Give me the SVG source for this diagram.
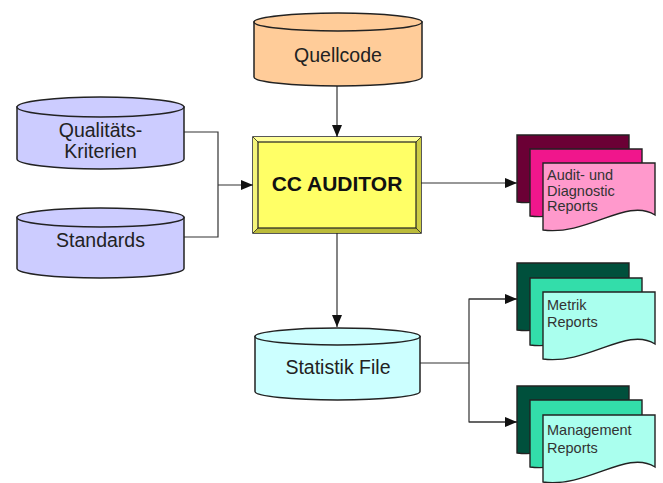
<svg xmlns="http://www.w3.org/2000/svg" width="663" height="483" viewBox="0 0 663 483">
<defs>
<style>
.cyl{stroke:#222;stroke-width:1.5}
.t{font-family:"Liberation Sans",Arial,sans-serif;fill:#222;font-size:19.5px}
.dt{font-family:"Liberation Sans",Arial,sans-serif;fill:#333;font-size:14.5px}
.ln{fill:none;stroke:#333;stroke-width:1.2}
.pg{stroke:#222;stroke-width:1.4}
</style>
<marker id="ah" viewBox="0 0 12 10" refX="12" refY="5" markerWidth="12" markerHeight="10" markerUnits="userSpaceOnUse" orient="auto">
<path d="M0,0 L12,5 L0,10 Z" fill="#111"/>
</marker>
<path id="page" d="M0,0 H112 V52 C84,34 45,73 0,67 Z"/>
</defs>
<rect width="663" height="483" fill="#fff"/>

<g id="connectors">
<line class="ln" x1="337" y1="86" x2="337" y2="137" marker-end="url(#ah)"/>
<polyline class="ln" points="184,132 218,132 218,237 184,237"/>
<line class="ln" x1="218" y1="185" x2="253" y2="185" marker-end="url(#ah)"/>
<line class="ln" x1="337" y1="233" x2="337" y2="327" marker-end="url(#ah)"/>
<line class="ln" x1="421" y1="183" x2="517" y2="183" marker-end="url(#ah)"/>
<line class="ln" x1="420" y1="363" x2="469" y2="363"/>
<polyline class="ln" points="517,299 469,299 469,422 517,422"/>
<line class="ln" x1="469" y1="299" x2="517" y2="299" marker-end="url(#ah)"/>
<line class="ln" x1="469" y1="422" x2="517" y2="422" marker-end="url(#ah)"/>
</g>

<g id="quellcode">
<path class="cyl" fill="#FFCC99" d="M254,22 V77 A84,9 0 0 0 422,77 V22 Z"/>
<ellipse class="cyl" fill="#FFCC99" cx="338" cy="22" rx="84" ry="9"/>
<text class="t" x="338" y="62" text-anchor="middle">Quellcode</text>
</g>

<g id="qualitaets">
<path class="cyl" fill="#CCCCFF" d="M17,107 V159 A83.5,10 0 0 0 184,159 V107 Z"/>
<ellipse class="cyl" fill="#CCCCFF" cx="100.5" cy="107" rx="83.5" ry="10"/>
<text class="t" x="100.5" y="137" text-anchor="middle">Qualitäts-</text>
<text class="t" x="100.5" y="158" text-anchor="middle">Kriterien</text>
</g>

<g id="standards">
<path class="cyl" fill="#CCCCFF" d="M17,217.5 V268.5 A83.5,9.5 0 0 0 184,268.5 V217.5 Z"/>
<ellipse class="cyl" fill="#CCCCFF" cx="100.5" cy="217.5" rx="83.5" ry="9.5"/>
<text class="t" x="100.5" y="247" text-anchor="middle">Standards</text>
</g>

<g id="ccauditor">
<rect x="253" y="137" width="168" height="96" fill="#E8E860" stroke="#222" stroke-width="1.5"/>
<polygon points="253,137 421,137 416,142 258,142" fill="#FFFF99"/>
<polygon points="253,137 258,142 258,228 253,233" fill="#F5F57A"/>
<polygon points="421,137 421,233 416,228 416,142" fill="#CCCC44"/>
<polygon points="253,233 421,233 416,228 258,228" fill="#BBBB3A"/>
<rect x="258" y="142" width="158" height="86" fill="#FFFF66" stroke="#222" stroke-width="1.2"/>
<line x1="253" y1="137" x2="258" y2="142" stroke="#222" stroke-width="0.8"/>
<line x1="421" y1="137" x2="416" y2="142" stroke="#222" stroke-width="0.8"/>
<line x1="253" y1="233" x2="258" y2="228" stroke="#222" stroke-width="0.8"/>
<line x1="421" y1="233" x2="416" y2="228" stroke="#222" stroke-width="0.8"/>
<text class="t" x="337" y="191" text-anchor="middle" font-weight="bold" style="font-size:21px;fill:#111">CC AUDITOR</text>
</g>

<g id="statistik">
<path class="cyl" fill="#CCFFFF" d="M255,336.5 V391.5 A82.5,8.5 0 0 0 420,391.5 V336.5 Z"/>
<ellipse class="cyl" fill="#CCFFFF" cx="337.5" cy="336.5" rx="82.5" ry="8.5"/>
<text class="t" x="338" y="374" text-anchor="middle">Statistik File</text>
</g>

<g id="audit">
<use href="#page" x="517" y="135" class="pg" fill="#6B0035"/>
<use href="#page" x="530" y="149" class="pg" fill="#F0168C"/>
<use href="#page" x="543" y="163" class="pg" fill="#FF99CC"/>
<text class="dt" x="547" y="180">Audit- und</text>
<text class="dt" x="547" y="195.5">Diagnostic</text>
<text class="dt" x="547" y="211">Reports</text>
</g>

<g id="metrik">
<use href="#page" x="517" y="263" class="pg" fill="#00503C"/>
<use href="#page" x="530" y="278" class="pg" fill="#33DDAA"/>
<use href="#page" x="543" y="292" class="pg" fill="#AAFFEE"/>
<text class="dt" x="547" y="310">Metrik</text>
<text class="dt" x="547" y="327">Reports</text>
</g>

<g id="management">
<use href="#page" x="517" y="386" class="pg" fill="#00503C"/>
<use href="#page" x="530" y="400" class="pg" fill="#33DDAA"/>
<use href="#page" x="543" y="415" class="pg" fill="#AAFFEE"/>
<text class="dt" x="547" y="435">Management</text>
<text class="dt" x="547" y="453">Reports</text>
</g>
</svg>
